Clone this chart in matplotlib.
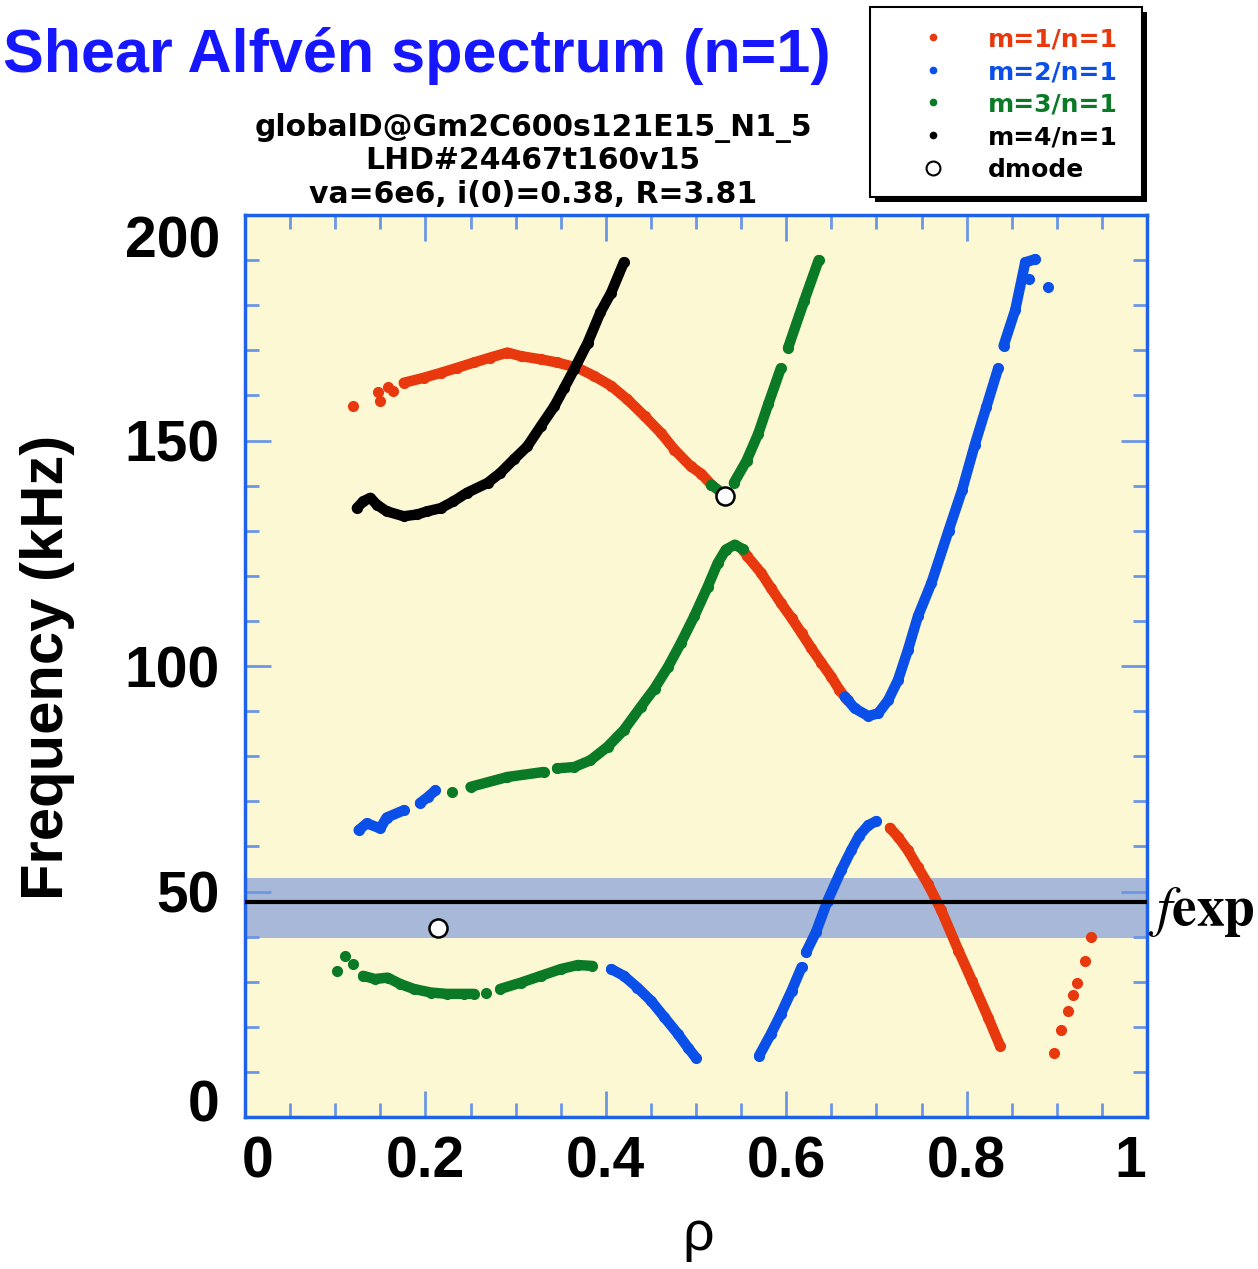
import matplotlib
matplotlib.use('Agg')
import matplotlib.pyplot as plt
import matplotlib.transforms as mtransforms
from matplotlib.ticker import MultipleLocator
from matplotlib.lines import Line2D
from matplotlib.patches import Rectangle

plt.rcParams['mathtext.fontset'] = 'stix'

# ---- continuum branches, rho vs frequency (kHz) ----
# m=1/n=1
m1_dots_rho = [0.120, 0.147, 0.150, 0.159, 0.164]
m1_dots_f = [157.6, 160.7, 158.7, 161.8, 161.0]
m1_upper_rho = [0.176, 0.198, 0.217, 0.235, 0.254, 0.272, 0.291, 0.306, 0.328, 0.346, 0.369,
                0.387, 0.406, 0.424, 0.443, 0.461, 0.476, 0.494, 0.506, 0.517]
m1_upper_f = [162.8, 163.9, 165.0, 166.1, 167.3, 168.4, 169.5, 168.7, 168.0, 167.3, 166.1,
              164.3, 162.1, 159.1, 155.4, 151.7, 148.0, 144.3, 142.6, 140.2]
m1_mid_rho = [0.552, 0.557, 0.572, 0.583, 0.594, 0.606, 0.617, 0.628, 0.639, 0.650, 0.659, 0.668]
m1_mid_f = [125.8, 124.3, 120.7, 117.3, 114.0, 110.6, 107.3, 103.9, 100.7, 97.6, 94.7, 92.4]
m1_low_rho = [0.715, 0.724, 0.735, 0.746, 0.757, 0.772, 0.791, 0.806, 0.824, 0.837]
m1_low_f = [64.1, 62.1, 59.1, 55.4, 51.7, 45.8, 36.9, 30.2, 22.0, 15.8]
m1_edge_rho = [0.897, 0.905, 0.912, 0.918, 0.922, 0.931, 0.938]
m1_edge_f = [14.2, 19.3, 23.6, 27.1, 29.8, 34.7, 40.0]

# m=2/n=1
m2_left_rho = [0.126, 0.135, 0.150, 0.157, 0.176]
m2_left_f = [63.6, 65.1, 64.0, 66.4, 68.0]
m2_left2_rho = [0.194, 0.203, 0.211]
m2_left2_f = [69.6, 71.0, 72.4]
m2_dip_rho = [0.406, 0.420, 0.435, 0.450, 0.465, 0.480, 0.491, 0.500]
m2_dip_f = [32.8, 31.3, 28.7, 25.8, 22.1, 18.4, 15.4, 13.1]
m2_rise_rho = [0.570, 0.583, 0.594, 0.606, 0.617]
m2_rise_f = [13.6, 18.4, 22.8, 28.0, 33.2]
m2_rise2_rho = [0.622, 0.633, 0.646, 0.661, 0.672, 0.681, 0.691, 0.700]
m2_rise2_f = [36.5, 41.0, 48.0, 54.7, 59.1, 62.4, 64.7, 65.6]
m2_upper_rho = [0.665, 0.676, 0.691, 0.702, 0.713, 0.724, 0.735, 0.746, 0.761, 0.780,
                0.795, 0.809, 0.822, 0.835]
m2_upper_f = [93.2, 90.6, 88.9, 89.5, 92.4, 96.9, 103.6, 111.0, 118.4, 130.0,
              139.0, 149.0, 157.5, 166.0]
m2_top_rho = [0.841, 0.854, 0.865, 0.876]
m2_top_f = [171.0, 179.0, 189.5, 190.2]
m2_dots_rho = [0.869, 0.890]
m2_dots_f = [185.8, 184.0]

# m=3/n=1
m3_dots_rho = [0.102, 0.111, 0.120, 0.267, 0.230]
m3_dots_f = [32.4, 35.8, 33.9, 27.6, 72.0]
m3_low_rho = [0.131, 0.144, 0.158, 0.172, 0.187, 0.206, 0.224, 0.243, 0.254]
m3_low_f = [31.3, 30.6, 30.9, 29.5, 28.4, 27.6, 27.3, 27.3, 27.3]
m3_low2_rho = [0.283, 0.306, 0.328, 0.350, 0.369, 0.385]
m3_low2_f = [28.4, 29.8, 31.3, 32.8, 33.7, 33.5]
m3_mid_rho = [0.250, 0.291, 0.331]
m3_mid_f = [73.2, 75.4, 76.5]
m3_mid2_rho = [0.346, 0.365, 0.383, 0.402, 0.420, 0.439, 0.454, 0.469, 0.483, 0.498,
               0.513, 0.524, 0.533, 0.543, 0.552]
m3_mid2_f = [77.3, 77.6, 79.1, 82.1, 85.8, 91.0, 95.0, 99.8, 105.0, 111.0,
             117.6, 122.8, 125.8, 126.9, 125.9]
m3_gap_rho = [0.517, 0.528]
m3_gap_f = [140.2, 138.5]
m3_upper_rho = [0.542, 0.556, 0.569, 0.580, 0.594]
m3_upper_f = [140.6, 145.5, 151.5, 158.0, 166.0]
m3_top_rho = [0.602, 0.620, 0.636]
m3_top_f = [170.5, 181.0, 190.0]

# m=4/n=1
m4_rho = [0.124, 0.131, 0.139, 0.146, 0.157, 0.176, 0.191, 0.202, 0.217, 0.231, 0.246, 0.269,
          0.283, 0.298, 0.313, 0.328, 0.343, 0.354, 0.365, 0.380, 0.394, 0.406, 0.420]
m4_f = [135.0, 136.5, 137.3, 135.8, 134.3, 133.2, 133.6, 134.3, 135.0, 136.5, 138.4, 140.6,
        142.8, 145.8, 148.7, 153.2, 157.6, 161.7, 165.8, 171.7, 178.4, 182.8, 189.5]

# discrete modes
dmode_rho = [0.214, 0.532]
dmode_f = [42.0, 137.6]

# measured frequency and its spread
f_exp = 47.6
f_exp_lo = 39.8
f_exp_hi = 53.1

xtick_vals = [0, 0.2, 0.4, 0.6, 0.8, 1.0]
xtick_text = ['0', '0.2', '0.4', '0.6', '0.8', '1']
ytick_vals = [0, 50, 100, 150, 200]
ytick_text = ['0', '50', '100', '150', '200']

leg_labels = ['m=1/n=1', 'm=2/n=1', 'm=3/n=1', 'm=4/n=1', 'dmode']

red = '#e8380d'
blue = '#0a50e8'
green = '#0b7a26'
leg_colors = [red, blue, green, 'k', 'k']

W, H = 1258, 1269
fig = plt.figure(figsize=(W / 100, H / 100), dpi=100)
ax = fig.add_axes([245 / W, 1 - 1117 / H, 902 / W, 902 / H])
ax.set_facecolor('#fcf8d3')
ax.set_xlim(0, 1)
ax.set_ylim(0, 200)

ax.axhspan(f_exp_lo, f_exp_hi, color='#a7b8d9', lw=0, zorder=1)
ax.axhline(f_exp, color='k', lw=3, zorder=6)


def curve(rho, f, col):
    ax.plot(rho, f, '-o', color=col, lw=7.5, ms=7, solid_capstyle='round',
            solid_joinstyle='round', zorder=3)


def dots(rho, f, col):
    ax.plot(rho, f, 'o', color=col, ms=7, lw=0, zorder=3)


dots(m1_dots_rho, m1_dots_f, red)
curve(m1_upper_rho, m1_upper_f, red)
curve(m1_mid_rho, m1_mid_f, red)
curve(m1_low_rho, m1_low_f, red)
dots(m1_edge_rho, m1_edge_f, red)

dots(m3_dots_rho, m3_dots_f, green)
curve(m3_low_rho, m3_low_f, green)
curve(m3_low2_rho, m3_low2_f, green)
curve(m3_mid_rho, m3_mid_f, green)
curve(m3_mid2_rho, m3_mid2_f, green)
curve(m3_gap_rho, m3_gap_f, green)
curve(m3_upper_rho, m3_upper_f, green)
curve(m3_top_rho, m3_top_f, green)

curve(m2_left_rho, m2_left_f, blue)
curve(m2_left2_rho, m2_left2_f, blue)
curve(m2_dip_rho, m2_dip_f, blue)
curve(m2_rise_rho, m2_rise_f, blue)
curve(m2_rise2_rho, m2_rise2_f, blue)
curve(m2_upper_rho, m2_upper_f, blue)
curve(m2_top_rho, m2_top_f, blue)
dots(m2_dots_rho, m2_dots_f, blue)

curve(m4_rho, m4_f, 'k')

ax.plot(dmode_rho, dmode_f, 'o', ms=13, mfc='white', mec='k', mew=1.8, lw=0, zorder=7)

# axes frame and ticks
for sp in ax.spines.values():
    sp.set_color('#1e62e8')
    sp.set_linewidth(2.5)
ax.set_xticks(xtick_vals, xtick_text)
ax.set_yticks(ytick_vals, ytick_text)
ax.xaxis.set_minor_locator(MultipleLocator(0.05))
ax.yaxis.set_minor_locator(MultipleLocator(10))
ax.tick_params(which='both', direction='in', top=True, right=True, color='#6c97e6', width=2)
ax.tick_params(which='major', length=19)
ax.tick_params(which='minor', length=10)
ax.tick_params(axis='x', pad=13)
ax.tick_params(axis='y', pad=18)
for lab in ax.get_xticklabels() + ax.get_yticklabels():
    lab.set_fontfamily('Liberation Sans')
    lab.set_fontweight('bold')
    lab.set_fontsize(41)

# end labels pulled in toward the frame
def nudge(lab, dx, dy):
    lab.set_transform(lab.get_transform() + mtransforms.ScaledTranslation(dx / 100, dy / 100, fig.dpi_scale_trans))

xl = ax.get_xticklabels()
yl = ax.get_yticklabels()
nudge(xl[0], 13, 0)
nudge(xl[-1], -17, 0)
nudge(yl[0], 0, 16)
nudge(yl[-1], 0, -21)

# titles and axis names
fig.text(3 / W, 1 - 72 / H, 'Shear Alfvén spectrum (n=1)', ha='left', va='baseline',
         fontsize=44, fontweight='bold', color='#1616ff', family='Liberation Sans')
sub_lines = ['globalD@Gm2C600s121E15_N1_5', 'LHD#24467t160v15', 'va=6e6, i(0)=0.38, R=3.81']
for line, yb in zip(sub_lines, [136, 169, 203]):
    fig.text(533 / W, 1 - yb / H, line, ha='center', va='baseline', fontsize=21.5,
             fontweight='bold', family='DejaVu Sans')
fig.text(48 / W, 1 - 667 / H, 'Frequency (kHz)', rotation=90, ha='center', va='center',
         fontsize=43, fontweight='bold', family='Liberation Sans')
fig.text(698 / W, 1 - 1250 / H, 'ρ', ha='center', va='baseline', fontsize=40, family='Liberation Sans')
fig.text(1148 / W, 1 - 925 / H, r'$\mathit{f}\mathbf{exp}$', ha='left', va='baseline', fontsize=40)

# legend box with drop shadow
lx0, ly0, lx1, ly1 = 870, 7, 1142, 197
fig.add_artist(Rectangle(((lx0 + 5) / W, 1 - (ly1 + 5) / H), (lx1 - lx0) / W, (ly1 - ly0) / H,
                         transform=fig.transFigure, fc='k', ec='none'))
fig.add_artist(Rectangle((lx0 / W, 1 - ly1 / H), (lx1 - lx0) / W, (ly1 - ly0) / H,
                         transform=fig.transFigure, fc='white', ec='k', lw=1.5))
for i in range(len(leg_labels)):
    yy = 1 - (37 + 32.7 * i) / H
    if leg_labels[i] == 'dmode':
        fig.add_artist(Line2D([933 / W], [yy], marker='o', ms=10, mfc='white', mec='k', mew=1.5,
                              transform=fig.transFigure))
    else:
        fig.add_artist(Line2D([933 / W], [yy], marker='o', ms=4.5, color=leg_colors[i],
                              transform=fig.transFigure))
    fig.text(988 / W, yy, leg_labels[i], color=leg_colors[i], ha='left', va='center_baseline',
             fontsize=18, fontweight='bold', family='DejaVu Sans')

fig.savefig('out.png', dpi=100)
